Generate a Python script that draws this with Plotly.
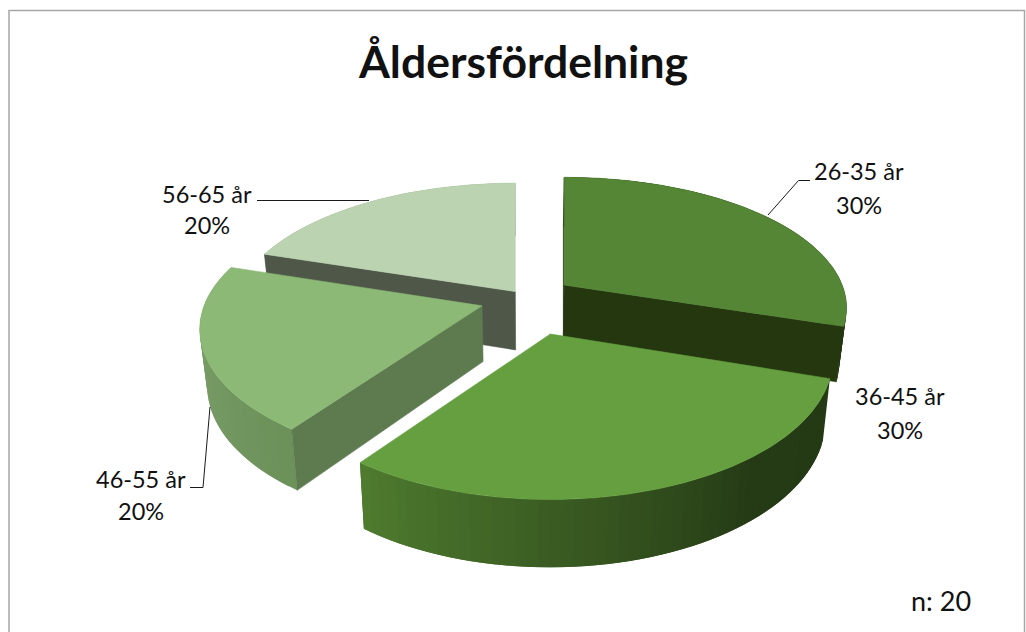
import math
import plotly.graph_objects as go

# ---- data ----
categories = ["26-35 år", "36-45 år", "46-55 år", "56-65 år"]
values = [30, 30, 20, 20]
title_text = "Åldersfördelning"
note_text = "n: 20"

# ---- style ----
pulls = [0.17, 0.26, 0.17, 0.09]
nudges = [(-4, -3), (-2, 1), (-3, -2), (0, 0)]
height_scale = [1.0, 1.03, 1.0, 1.08]
top_colors = ["#548636", "#659f3f", "#8cb975", "#bcd3b1"]
cut_colors = {0: [(0, "#24370f"), (1, "#24370f")],
              1: [],
              2: [(0, "#5e7b50")],
              3: [(0, "#4e5748")]}
draw_order = [3, 0, 2, 1]
side_stops = {
    0: [(0, (36, 56, 20)), (360, (36, 56, 20))],
    1: [(108, (36, 58, 20)), (140, (38, 60, 22)), (216, (80, 126, 48))],
    2: [(216, (108, 146, 90)), (250, (120, 155, 102)), (288, (130, 168, 112))],
    3: [(0, (150, 170, 140)), (360, (150, 170, 140))],
}
CX, CY, R, RT, K, H, SHRINK = 530, 301, 278, 129.5, 0.175, 55, 0.977


def project(px, py, ox, oy, idx, bottom=False):
    s = 1 / (1 + K * py)
    xs = CX + R * ox + R * px * s
    ys = CY - RT * oy - RT * (1 - 0.22 * oy) * py * s
    if bottom:
        xs = CX + (xs - CX) * SHRINK
        ys = CY + (ys - CY) * SHRINK + H * height_scale[idx] * s ** 0.9 * (1 - 0.3 * oy)
    return xs + nudges[idx][0], ys + nudges[idx][1]


def lerp_color(stops, a):
    for (a0, c0), (a1, c1) in zip(stops, stops[1:]):
        if a0 <= a <= a1:
            t = (a - a0) / (a1 - a0)
            return "rgb(%d,%d,%d)" % tuple(c0[i] + (c1[i] - c0[i]) * t for i in range(3))
    return "rgb(%d,%d,%d)" % stops[-1][1]


fig = go.Figure()


def poly(pts, color, lw=0.6):
    xs = [p[0] for p in pts] + [pts[0][0]]
    ys = [p[1] for p in pts] + [pts[0][1]]
    fig.add_trace(go.Scatter(x=xs, y=ys, mode="lines", fill="toself", fillcolor=color,
                             line=dict(color=color, width=lw), hoverinfo="skip", showlegend=False))


total = sum(values)
starts = []
acc = 0
for v in values:
    starts.append(acc)
    acc += v


for i in draw_order:
    a0 = starts[i] / total * 360
    a1 = (starts[i] + values[i]) / total * 360
    mid = math.radians((a0 + a1) / 2)
    ox, oy = pulls[i] * math.sin(mid), pulls[i] * math.cos(mid)

    def rim(deg, bottom=False):
        t = math.radians(deg)
        return project(math.sin(t), math.cos(t), ox, oy, i, bottom)

    n = max(2, int((a1 - a0) / 2))
    angs = [a0 + (a1 - a0) * j / n for j in range(n + 1)]
    fine = [a0 + (a1 - a0) * j / (4 * n) for j in range(4 * n + 1)]
    # outer wall, strips overlap so no seams; painted from a1 back to a0
    for b0, b1 in reversed(list(zip(angs, angs[1:]))):
        b_end = min(b1 + (a1 - a0) / n, a1)
        arc = [a for a in fine if b0 <= a <= b_end + 1e-9]
        poly([rim(a) for a in arc] + [rim(a, True) for a in reversed(arc)],
             lerp_color(side_stops[i], (b0 + b1) / 2), lw=0)
    # radial cut faces
    for frac, col in cut_colors[i]:
        e = a0 + (a1 - a0) * frac
        poly([project(0, 0, ox, oy, i), rim(e), rim(e, True), project(0, 0, ox, oy, i, True)], col)
    # top
    poly([project(0, 0, ox, oy, i)] + [rim(a) for a in fine], top_colors[i])

# leader lines
leaders = [
    ([768, 798.5, 810], [215, 180.5, 180.5]),
    ([210, 203, 190], [407, 487.5, 487.5]),
    ([257, 369], [200.5, 200.5]),
]
for lx, ly in leaders:
    fig.add_trace(go.Scatter(x=lx, y=ly, mode="lines", line=dict(color="#1a1a1a", width=1),
                             hoverinfo="skip", showlegend=False))

FONT = "Lato, Carlito, Calibri, sans-serif"
label_pos = [(859, 171, 205), (900, 396, 430), (141, 479, 511), (207, 194, 225)]
ann = []
for cat, v, (x, y1, y2) in zip(categories, values, label_pos):
    pct = round(v / total * 100)
    ann.append(dict(x=x, y=y1, text=cat, showarrow=False, xanchor="center", yanchor="middle",
                    font=dict(family=FONT, size=23.5, color="#111111")))
    ann.append(dict(x=x, y=y2, text=f"{pct}%", showarrow=False, xanchor="center", yanchor="middle",
                    font=dict(family=FONT, size=23.5, color="#111111")))
ann.append(dict(x=523, y=60, text=f"<b>{title_text}</b>", showarrow=False, xanchor="center", yanchor="middle",
                font=dict(family=FONT, size=44.5, color="#111111")))
ann.append(dict(x=941, y=600, text=note_text, showarrow=False, xanchor="center", yanchor="middle",
                font=dict(family=FONT, size=27, color="#111111")))

fig.update_layout(
    width=1026, height=632, margin=dict(l=0, r=0, t=0, b=0),
    paper_bgcolor="white", plot_bgcolor="white", showlegend=False,
    xaxis=dict(range=[0, 1026], visible=False, fixedrange=True),
    yaxis=dict(range=[632, 0], visible=False, fixedrange=True),
    annotations=ann,
    shapes=[dict(type="rect", x0=9, y0=10.5, x1=1024.5, y1=640, line=dict(color="#a6a6a6", width=1.5),
                 fillcolor="rgba(0,0,0,0)", layer="below")],
)
fig.write_html("out.html", config={"displayModeBar": False},
               post_script="document.body.style.margin='0';document.body.style.overflow='hidden';")
